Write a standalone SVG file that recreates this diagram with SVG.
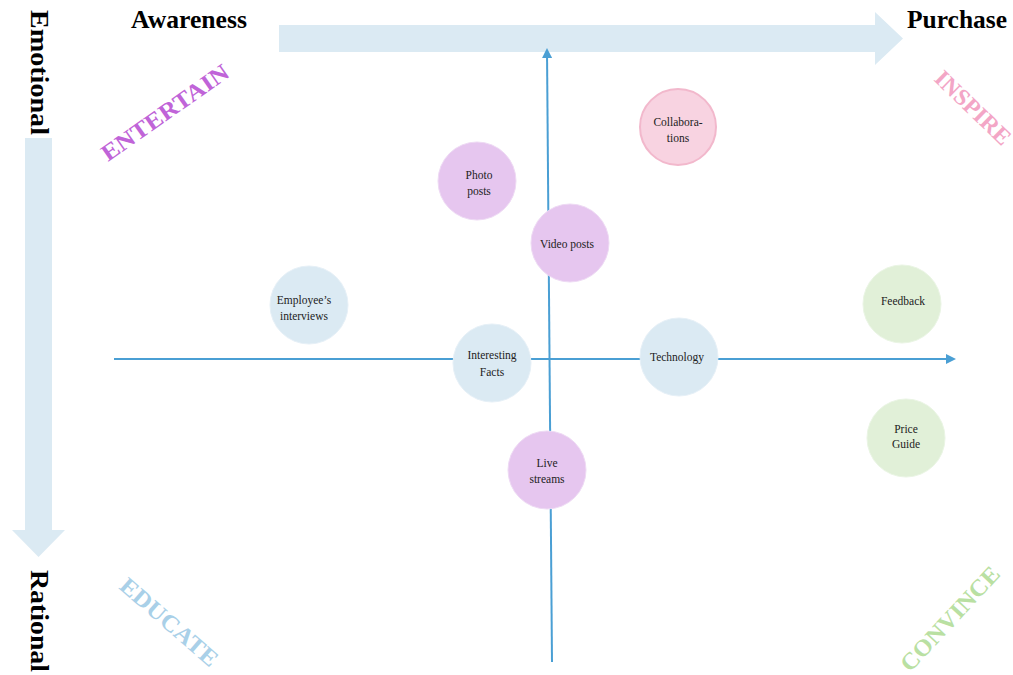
<svg xmlns="http://www.w3.org/2000/svg" width="1013" height="675" viewBox="0 0 1013 675">
<style>
.lbl{font-family:"Liberation Serif","Times New Roman",serif;font-weight:bold;font-size:25.5px;fill:#000}
.q{font-family:"Liberation Serif","Times New Roman",serif;font-weight:bold;font-size:23.5px}
.t{font-family:"Liberation Serif","Times New Roman",serif;font-size:11.5px;fill:#222;text-anchor:middle}
.purple{fill:#e6c6ef;stroke:#eedaf4;stroke-width:1}
.pink{fill:#f8d3e1;stroke:#f2b8cc;stroke-width:2}
.blue{fill:#dbeaf3;stroke:#e6f0f7;stroke-width:1}
.green{fill:#e1f0d8;stroke:#eaf5e4;stroke-width:1}
.axis{stroke:#4a9fd4;stroke-width:2;fill:none}
.big{fill:#dbeaf3}
</style>
<defs>
<marker id="ah" viewBox="0 0 10 10" refX="8" refY="5" markerWidth="5" markerHeight="5" orient="auto" markerUnits="strokeWidth">
<path d="M0,0 L10,5 L0,10 z" fill="#4a9fd4"/>
</marker>
</defs>
<g id="big-arrows">
<path class="big" d="M279,25 L875,25 L875,12 L903,38.5 L875,65 L875,52 L279,52 z"/>
<path class="big" d="M25,138 L52,138 L52,530 L65,530 L38.5,557 L12,530 L25,530 z"/>
</g>
<g id="labels">
<text class="lbl" x="131" y="28" textLength="116" lengthAdjust="spacingAndGlyphs">Awareness</text>
<text class="lbl" x="907" y="28" textLength="100" lengthAdjust="spacingAndGlyphs">Purchase</text>
<text class="lbl" transform="translate(31,10) rotate(90)" textLength="125" lengthAdjust="spacingAndGlyphs">Emotional</text>
<text class="lbl" transform="translate(31,570) rotate(90)" textLength="102" lengthAdjust="spacingAndGlyphs">Rational</text>
<text class="q" fill="#c064d8" transform="translate(108,162) rotate(-35)" textLength="150" lengthAdjust="spacingAndGlyphs">ENTERTAIN</text>
<text class="q" fill="#f3a6c6" transform="translate(933,80) rotate(44)" textLength="96" lengthAdjust="spacingAndGlyphs">INSPIRE</text>
<text class="q" fill="#a9d0e8" transform="translate(118,588) rotate(41)" textLength="122" lengthAdjust="spacingAndGlyphs">EDUCATE</text>
<text class="q" fill="#b9e0a2" transform="translate(910,673) rotate(-47)" textLength="134" lengthAdjust="spacingAndGlyphs">CONVINCE</text>
</g>
<g id="connectors">
<line class="axis" x1="114" y1="359" x2="954" y2="359" marker-end="url(#ah)"/>
<line class="axis" x1="552" y1="662" x2="547" y2="50" marker-end="url(#ah)"/>
</g>
<g id="n-collaborations"><circle class="pink" cx="678" cy="127" r="38"/><text class="t" x="678" y="126">Collabora-</text><text class="t" x="678" y="142">tions</text></g>
<g id="n-photo"><circle class="purple" cx="477" cy="181" r="39"/><text class="t" x="479" y="179">Photo</text><text class="t" x="479" y="195">posts</text></g>
<g id="n-video"><circle class="purple" cx="570" cy="243" r="39"/><text class="t" x="567" y="248">Video posts</text></g>
<g id="n-employee"><circle class="blue" cx="309" cy="305" r="39"/><text class="t" x="304" y="304">Employee’s</text><text class="t" x="304" y="320">interviews</text></g>
<g id="n-facts"><circle class="blue" cx="492" cy="363" r="39"/><text class="t" x="492" y="359">Interesting</text><text class="t" x="492" y="376">Facts</text></g>
<g id="n-technology"><circle class="blue" cx="679" cy="357" r="39"/><text class="t" x="677" y="361">Technology</text></g>
<g id="n-feedback"><circle class="green" cx="902" cy="304" r="39"/><text class="t" x="903" y="305">Feedback</text></g>
<g id="n-price"><circle class="green" cx="906" cy="438" r="39"/><text class="t" x="906" y="433">Price</text><text class="t" x="906" y="448">Guide</text></g>
<g id="n-live"><circle class="purple" cx="547" cy="470" r="39"/><text class="t" x="547" y="467">Live</text><text class="t" x="547" y="483">streams</text></g>
</svg>
